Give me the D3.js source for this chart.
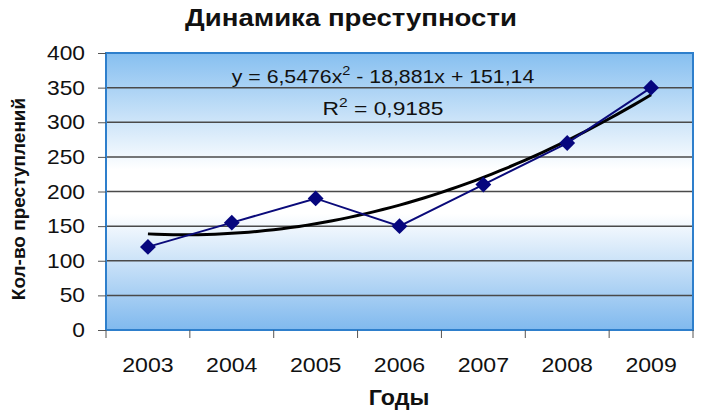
<!DOCTYPE html>
<html>
<head>
<meta charset="utf-8">
<script src="https://cdn.jsdelivr.net/npm/d3@7"></script>
<style>
  body { margin: 0; background: #fff; }
  text { font-family: "Liberation Sans", Arial, sans-serif; }
</style>
</head>
<body>
<div class="chart"></div>
<script>
// data
var years = ["2003", "2004", "2005", "2006", "2007", "2008", "2009"];
var crimes = [120, 155, 190, 150, 210, 270, 350];
var yTicks = [0, 50, 100, 150, 200, 250, 300, 350, 400];
// trend coefficients as shown on the chart (a*x^2 + b*x + c)
var trendCoef = [6.5476, -18.881, 151.14];
var trendLabel = "y = 6,5476x";
var trendLabel2 = " - 18,881x + 151,14";
var r2Label = "= 0,9185";

var svgWidth = 703;
var svgHeight = 414;

var margin = { top: 53, right: 10, bottom: 84, left: 106 };
var width = 693 - margin.left;
var height = 330 - margin.top;

var svg = d3.select(".chart")
  .append("svg")
  .attr("width", svgWidth)
  .attr("height", svgHeight);

// the picture is a little wider than tall, so text is stretched sideways
function label(parent, x, y, str, size, sx, anchor, bold) {
  return parent.append("text")
    .attr("transform", `translate(${x}, ${y}) scale(${sx}, 1)`)
    .attr("text-anchor", anchor)
    .attr("font-size", size)
    .attr("font-weight", bold ? "bold" : "normal")
    .attr("fill", "#111")
    .text(str);
}

var defs = svg.append("defs");
var grad = defs.append("linearGradient")
  .attr("id", "bg")
  .attr("x1", 0).attr("y1", 0).attr("x2", 0).attr("y2", 1);
grad.append("stop").attr("offset", "0%").attr("stop-color", "#86bff0");
grad.append("stop").attr("offset", "42%").attr("stop-color", "#ffffff");
grad.append("stop").attr("offset", "58%").attr("stop-color", "#ffffff");
grad.append("stop").attr("offset", "100%").attr("stop-color", "#80b9ee");

var chartGroup = svg.append("g")
  .attr("transform", `translate(${margin.left}, ${margin.top})`);

// scales
var x = d3.scaleBand().domain(years).range([0, width]);
var y = d3.scaleLinear().domain([0, 400]).range([height, 0]);

// background
chartGroup.append("rect")
  .attr("width", width)
  .attr("height", height)
  .attr("fill", "url(#bg)");

// gridlines
chartGroup.append("g")
  .selectAll("line")
  .data(yTicks.slice(1, -1))
  .enter()
  .append("line")
  .attr("x1", 0).attr("x2", width)
  .attr("y1", d => y(d)).attr("y2", d => y(d))
  .attr("stroke", "#4a4a4a")
  .attr("stroke-width", 1.5);

// border
chartGroup.append("rect")
  .attr("width", width)
  .attr("height", height)
  .attr("fill", "none")
  .attr("stroke", "#2e7fcc")
  .attr("stroke-width", 2);

// y axis
var leftAxis = d3.axisLeft(y).tickValues(yTicks).tickSize(8).tickFormat("");
var yAxis = chartGroup.append("g").call(leftAxis);
yAxis.select(".domain").remove();
yAxis.selectAll("line").attr("stroke", "#555");
yTicks.forEach(function(t) {
  label(chartGroup, -21, y(t) + 7, String(t), 20, 1.14, "end", false);
});

// x axis with ticks at category boundaries
var xAxis = chartGroup.append("g")
  .attr("transform", `translate(0, ${height})`);
xAxis.selectAll("line")
  .data(d3.range(years.length + 1))
  .enter()
  .append("line")
  .attr("x1", i => i * x.bandwidth())
  .attr("x2", i => i * x.bandwidth())
  .attr("y1", 0).attr("y2", 8)
  .attr("stroke", "#555");
years.forEach(function(d) {
  label(xAxis, x(d) + x.bandwidth() / 2, 42, d, 21, 1.1, "middle", false);
});

// trendline
var cx = d => x(d) + x.bandwidth() / 2;
var trendPts = d3.range(0, 6.01, 0.1).map(function(t) {
  var n = t + 1;
  var v = trendCoef[0] * n * n + trendCoef[1] * n + trendCoef[2];
  return [cx(years[0]) + t * x.step(), y(v)];
});
chartGroup.append("path")
  .attr("d", d3.line()(trendPts))
  .attr("fill", "none")
  .attr("stroke", "#000")
  .attr("stroke-width", 3);

// data line
chartGroup.append("path")
  .datum(crimes)
  .attr("d", d3.line().x((d, i) => cx(years[i])).y(d => y(d)))
  .attr("fill", "none")
  .attr("stroke", "#0a0a7a")
  .attr("stroke-width", 2);

chartGroup.selectAll(".pt")
  .data(crimes)
  .enter()
  .append("path")
  .attr("class", "pt")
  .attr("d", d3.symbol().type(d3.symbolDiamond2).size(160))
  .attr("transform", (d, i) => `translate(${cx(years[i])}, ${y(d)})`)
  .attr("fill", "#06067e");

// equation
var eq = label(chartGroup, 383 - margin.left, 83 - margin.top, "", 19, 1.12, "middle", false);
eq.append("tspan").text(trendLabel);
eq.append("tspan").attr("dy", -8).attr("font-size", 13).text("2");
eq.append("tspan").attr("dy", 8).text(trendLabel2);

var r2 = label(chartGroup, 383 - margin.left, 115 - margin.top, "", 19, 1.2, "middle", false);
r2.append("tspan").text("R");
r2.append("tspan").attr("dy", -8).attr("font-size", 13).text("2");
r2.append("tspan").attr("dy", 8).text(" " + r2Label);

// title
label(svg, 351, 26, "Динамика преступности", 23, 1.2, "middle", true);

// axis titles
label(svg, 399, 405, "Годы", 22, 1.06, "middle", true);

svg.append("text")
  .attr("transform", "translate(25, 199) rotate(-90)")
  .attr("text-anchor", "middle")
  .attr("font-size", 19)
  .attr("font-weight", "bold")
  .attr("fill", "#111")
  .text("Кол-во преступлений");
</script>
</body>
</html>
